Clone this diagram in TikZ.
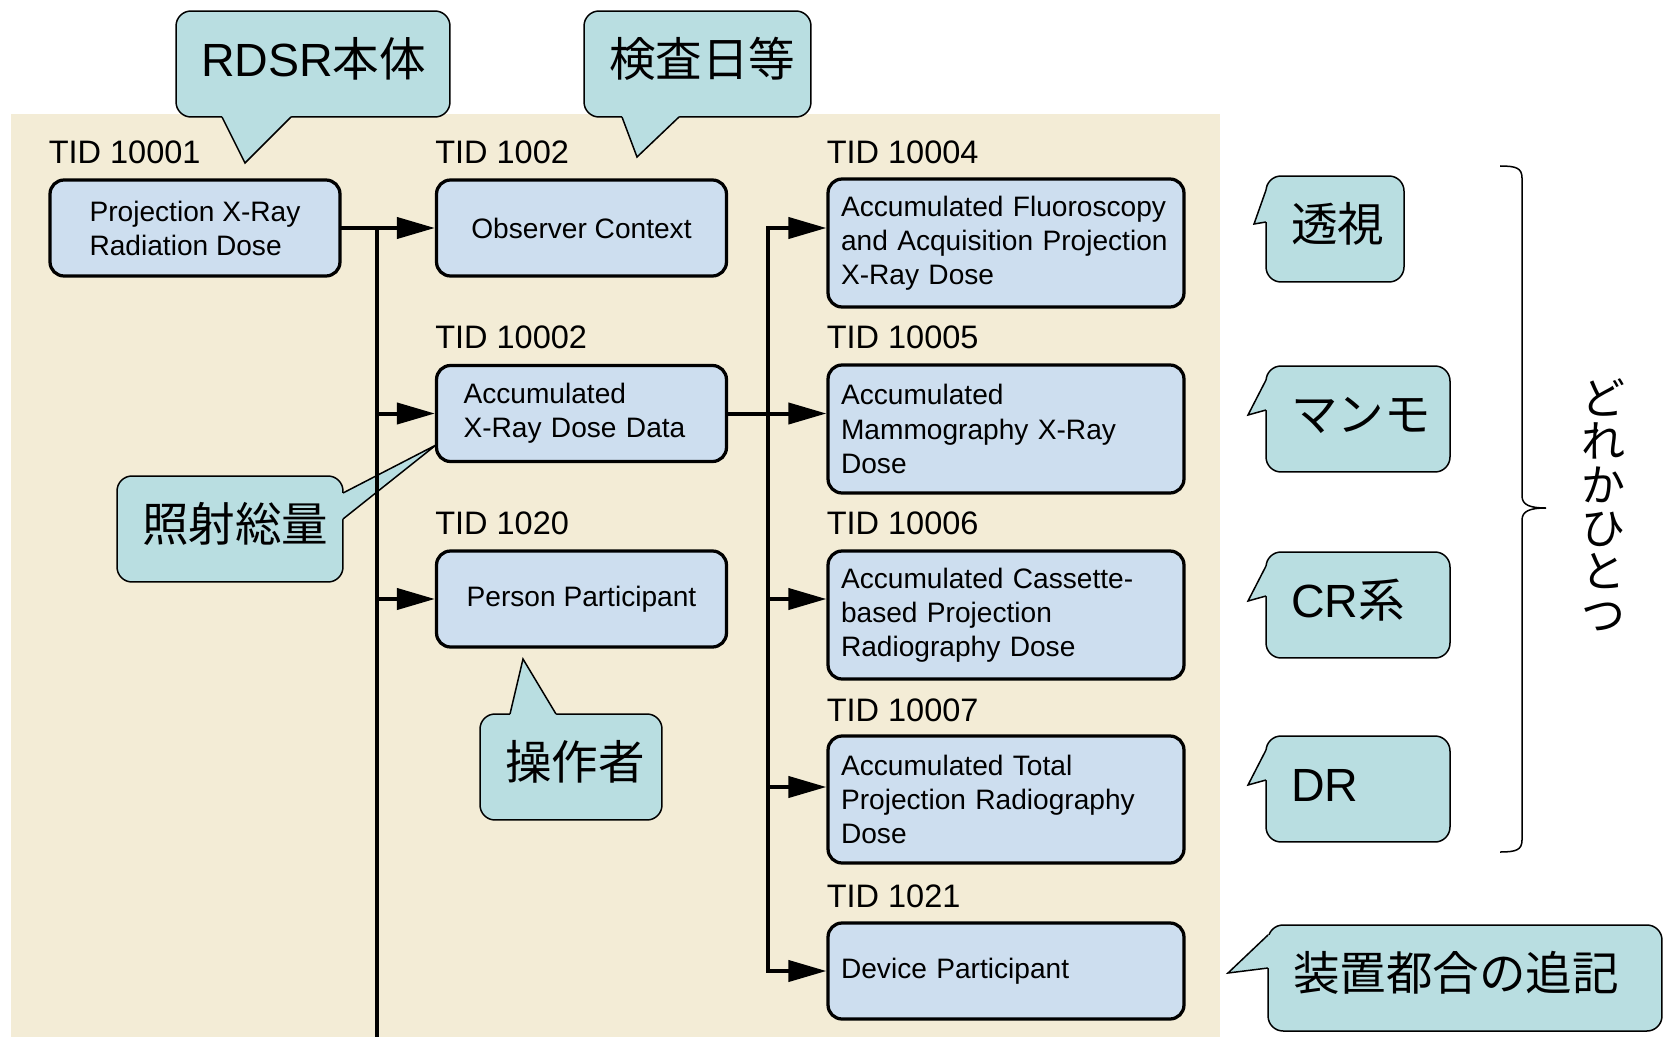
\documentclass[tikz,border=0pt]{standalone}
\usepackage{fontspec}
\setmainfont{Liberation Sans}
\newfontfamily\jp{Noto Sans CJK JP}
\usetikzlibrary{arrows.meta}
\hfuzz=200pt
\definecolor{bgbeige}{RGB}{243,236,214}
\definecolor{boxblue}{RGB}{205,222,239}
\definecolor{calloutcyan}{RGB}{185,222,225}
\tikzset{
  tidbox/.style={draw=black, line width=0.065cm, rounded corners=0.28cm, fill=boxblue,
    minimum height=1.92cm, font=\fontsize{16}{19.4}\selectfont},
  leftbox/.style={tidbox, minimum width=5.8cm, align=left},
  rightbox/.style={tidbox, minimum width=7.12cm, text width=6.6cm, inner xsep=0.26cm, align=left},
  tidlabel/.style={anchor=base west, inner sep=0pt, font=\fontsize{18.5}{22}\selectfont},
  callout/.style={draw=black, line width=0.03cm, rounded corners=0.3cm, fill=calloutcyan,
    minimum height=2.12cm, inner xsep=0.5cm, align=left, text height=0.75cm, text depth=0.25cm,
    font=\fontsize{26.5}{32}\selectfont},
  tail/.style={draw=black, line width=0.03cm, line join=miter},
  link/.style={line width=0.08cm, line cap=rect},
  linkarrow/.style={link, -{Triangle[length=0.76cm, width=0.42cm]}},
}
\begin{document}
\begin{tikzpicture}[x=0.02cm, y=-0.02cm]
\useasboundingbox (0,0) rectangle (1666,1037);

% Drawing background
\fill[bgbeige] (11,114) rectangle (1220,1037);

% Drawing callouts
\node[callout, text width=4.48cm] (rdsr) at (313,64) {RDSR{\jp 本体}};
\fill[calloutcyan] (222,115) -- (222,117) -- (245,163) -- (291,117) -- (291,115) -- cycle;
\draw[tail] (222,117) -- (245,163) -- (291,117);

\node[callout, text width=3.54cm] (kensa) at (697.5,64) {\jp 検査日等};
\fill[calloutcyan] (622,115) -- (622,117) -- (637,157) -- (679,117) -- (679,115) -- cycle;
\draw[tail] (622,117) -- (637,157) -- (679,117);

\node[callout, text width=3.52cm] (shosha) at (230,529) {\jp 照射総量};
\fill[calloutcyan] (341,493) -- (343,493) -- (436,445) -- (343,519) -- (341,519) -- cycle;
\draw[tail] (343,493) -- (436,445) -- (343,519);

\node[callout, text width=2.64cm] (sousa) at (571,767) {\jp 操作者};
\fill[calloutcyan] (510,716) -- (510,714) -- (523,659) -- (556,714) -- (556,716) -- cycle;
\draw[tail] (510,714) -- (523,659) -- (556,714);

\node[callout, text width=1.76cm] (toushi) at (1335,229) {\jp 透視};
\fill[calloutcyan] (1268,190) -- (1266,190) -- (1254,224) -- (1266,222) -- (1268,222) -- cycle;
\draw[tail] (1266,190) -- (1254,224) -- (1266,222);

\node[callout, text width=2.68cm] (manmo) at (1358,419) {\jp マンモ};
\fill[calloutcyan] (1268,380) -- (1266,380) -- (1248,415) -- (1266,410) -- (1268,410) -- cycle;
\draw[tail] (1266,380) -- (1248,415) -- (1266,410);

\node[callout, text width=2.68cm] (crkei) at (1358,605) {CR{\jp 系}};
\fill[calloutcyan] (1268,566) -- (1266,566) -- (1248,601) -- (1266,596) -- (1268,596) -- cycle;
\draw[tail] (1266,566) -- (1248,601) -- (1266,596);

\node[callout, text width=2.68cm] (dr) at (1358,789) {DR};
\fill[calloutcyan] (1268,750) -- (1266,750) -- (1248,785) -- (1266,780) -- (1268,780) -- cycle;
\draw[tail] (1266,750) -- (1248,785) -- (1266,780);

\node[callout, text width=6.88cm] (souchi) at (1465,978) {\jp 装置都合の追記};
\fill[calloutcyan] (1270,935) -- (1268,935) -- (1228,973) -- (1268,968) -- (1270,968) -- cycle;
\draw[tail] (1268,935) -- (1228,973) -- (1268,968);

% Drawing template boxes
\node[leftbox] (A) at (195,228) {Projection X-Ray\\Radiation Dose};
\node[leftbox] (B) at (581.5,228) {Observer Context};
\node[leftbox, text width=4.72cm, inner xsep=0.54cm] (C) at (581.5,413.5) {Accumulated\\X-Ray Dose Data};
\node[leftbox] (D) at (581.5,599) {Person Participant};
\node[rightbox, minimum height=2.56cm] (E) at (1006,243) {Accumulated Fluoroscopy\\and Acquisition Projection\\X-Ray Dose};
\node[rightbox, minimum height=2.56cm] (F) at (1006,429) {Accumulated\\Mammography X-Ray\\Dose};
\node[rightbox, minimum height=2.56cm] (G) at (1006,615) {Accumulated Cassette-\\based Projection\\Radiography Dose};
\node[rightbox, minimum height=2.54cm] (H) at (1006,799.5) {Accumulated Total\\Projection Radiography\\Dose};
\node[rightbox] (I) at (1006,971) {Device Participant};

% Marking TID numbers
\node[tidlabel] (tidA) at ([yshift=0.3cm]A.north west) {TID 10001};
\node[tidlabel] (tidB) at ([yshift=0.3cm]B.north west) {TID 1002};
\node[tidlabel] (tidC) at ([yshift=0.3cm]C.north west) {TID 10002};
\node[tidlabel] (tidD) at ([yshift=0.3cm]D.north west) {TID 1020};
\node[tidlabel] (tidE) at ([yshift=0.28cm]E.north west) {TID 10004};
\node[tidlabel] (tidF) at ([yshift=0.3cm]F.north west) {TID 10005};
\node[tidlabel] (tidG) at ([yshift=0.3cm]G.north west) {TID 10006};
\node[tidlabel] (tidH) at ([yshift=0.26cm]H.north west) {TID 10007};
\node[tidlabel] (tidI) at ([yshift=0.28cm]I.north west) {TID 1021};

% Drawing links
\coordinate (trunkA) at (376.5,228);
\coordinate (trunkAend) at (376.5,1037);
\coordinate (trunkB) at (768,228);
\coordinate (doseH) at ([yshift=0.25cm]H.west);
\draw[linkarrow] (A.east) -- (B.west);
\draw[link] (trunkA) -- (trunkAend);
\draw[linkarrow] (trunkA |- C.west) -- (C.west);
\draw[linkarrow] (trunkA |- D.west) -- (D.west);
\draw[linkarrow] (C.east) -- (F.west |- C.east);
\draw[linkarrow] (trunkB) -- (E.west |- trunkB);
\draw[linkarrow] (trunkB |- D.west) -- (G.west |- D.west);
\draw[linkarrow] (trunkB |- doseH) -- (doseH);
\draw[linkarrow] (trunkB) |- (I.west);

% Drawing brace
\draw[line width=0.03cm] (1500,166) .. controls (1516,166) and (1522,168) .. (1522,178) -- (1522,496)
  .. controls (1522,505) and (1530,508) .. (1546,508) .. controls (1530,508) and (1522,511) .. (1522,520)
  -- (1522,840) .. controls (1522,850) and (1516,852) .. (1500,852);
\node[align=center, inner sep=0pt, font={\jp\fontsize{25}{24.7}\selectfont\lineskiplimit=-20pt}] (anyone) at (1603,505) {ど\\れ\\か\\ひ\\と\\つ};
\end{tikzpicture}
\end{document}
